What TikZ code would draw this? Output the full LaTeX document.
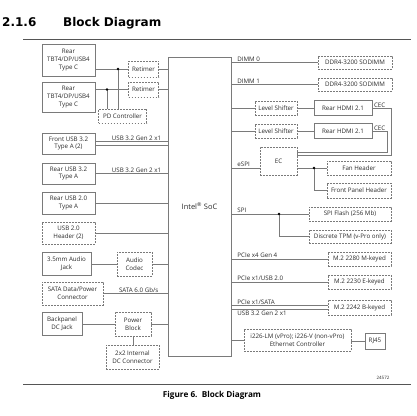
\documentclass[tikz,border=0pt]{standalone}
\usepackage{fontspec}
\setmainfont{Open Sans}
\newfontfamily\vfont{DejaVu Sans}
\definecolor{ln}{HTML}{7A7A7A}
\definecolor{tx}{HTML}{2A2A2A}
\definecolor{rl}{HTML}{555555}
\tikzset{
  box/.style={draw=ln, line width=0.6pt, rectangle, inner sep=0pt, align=center,
    font=\fontsize{6.2}{7.8}\selectfont, text=tx},
  dbox/.style={box, dash pattern=on 1.8pt off 1.2pt},
  sz/.style 2 args={minimum width=#1pt, minimum height=#2pt},
  wire/.style={draw=ln, line width=0.6pt},
  lbl/.style={font=\fontsize{6.2}{7}\selectfont, text=tx, inner sep=0.8pt},
  rlbl/.style={lbl, anchor=south west, pos=0, xshift=5pt},
  rlblb/.style={lbl, anchor=north west, pos=0, xshift=5pt},
  jdot/.style={circle, fill=black, inner sep=0pt, minimum size=2.6pt},
  titlef/.style={font=\vfont\bfseries\fontsize{12}{14}\selectfont, text=black, inner sep=0pt},
  capf/.style={font=\bfseries\fontsize{8.2}{9}\selectfont, text=black, inner sep=0pt},
  rulestyle/.style={draw=rl, line width=0.9pt}
}
\begin{document}
\begin{tikzpicture}[x=1pt,y=-1pt]
\useasboundingbox (0,0) rectangle (416,416);
% title and rules
\node[titlef, anchor=base west] (num) at (2,26) {2.1.6};
\node[titlef, anchor=base west] (ttl) at (63,26) {Block Diagram};
\draw[rulestyle] (23,39) -- (411,39);
\draw[rulestyle] (23,384) -- (411,384);
\node[capf] (cap) at (212,395) {Figure 6.\ \ Block Diagram};
\node[lbl, font=\fontsize{4.5}{5}\selectfont] (fignum) at (383,378) {24572};

% SoC
\node[box, sz={63}{299}, font=\fontsize{7.5}{9}\selectfont] (soc) at (199.5,206.5) {Intel\textsuperscript{\textregistered} SoC};

% left side
\node[box, sz={53}{32}] (tbt1) at (68.5,60) {Rear\\TBT4/DP/USB4\\Type C};
\node[box, sz={53}{30}] (tbt2) at (68.5,97) {Rear\\TBT4/DP/USB4\\Type C};
\node[dbox, sz={30}{16}] (ret1) at (143.5,69) {Retimer};
\node[dbox, sz={30}{15}] (ret2) at (143.5,89.5) {Retimer};
\node[dbox, sz={48}{14}] (pd) at (122.5,116) {PD Controller};
\node[box, sz={53}{21}] (fusb) at (68.5,143.5) {Front USB 3.2\\Type A (2)};
\node[box, sz={53}{21}] (rusb3) at (68.5,173.5) {Rear USB 3.2\\Type A};
\node[box, sz={53}{22}] (rusb2) at (68.5,203) {Rear USB 2.0\\Type A};
\node[dbox, sz={53}{22}] (hdr) at (68.5,233) {USB 2.0\\Header (2)};
\node[box, sz={49}{23}] (jack) at (66.5,263.5) {3.5mm Audio\\Jack};
\node[dbox, sz={35}{24}] (codec) at (134.5,264) {Audio\\Codec};
\node[dbox, sz={61}{23}] (sata) at (72.5,293.5) {SATA Data/Power\\Connector};
\node[box, sz={40}{23}] (dcj) at (62,323.5) {Backpanel\\DC Jack};
\node[dbox, sz={36}{24}] (pb) at (133,324) {Power\\Block};
\node[dbox, sz={53}{24}] (dc2) at (132.5,357) {2x2 Internal\\DC Connector};

% right side
\node[dbox, sz={74}{13}] (ddr0) at (355,62.5) {DDR4-3200 SODIMM};
\node[dbox, sz={74}{13}] (ddr1) at (355,84.5) {DDR4-3200 SODIMM};
\node[dbox, sz={42}{14}] (ls1) at (276,108) {Level Shifter};
\node[box, sz={58}{15}] (hdmi1) at (343,108) {Rear HDMI 2.1};
\node[dbox, sz={42}{14}] (ls2) at (276,131) {Level Shifter};
\node[box, sz={58}{15}] (hdmi2) at (343,131) {Rear HDMI 2.1};
\node[dbox, sz={37}{28}] (ec) at (278.5,161) {EC};
\node[dbox, sz={64}{14}] (fan) at (359,168) {Fan Header};
\node[dbox, sz={64}{15}] (fph) at (359,190.5) {Front Panel Header};
\node[dbox, sz={82}{14}] (spif) at (350,214) {SPI Flash (256 Mb)};
\node[dbox, sz={82}{13}] (tpm) at (350,236.5) {Discrete TPM (v-Pro only)};
\node[dbox, sz={63}{14}] (m2m) at (359.5,259) {M.2 2280 M-keyed};
\node[dbox, sz={63}{14}] (m2e) at (359.5,282) {M.2 2230 E-keyed};
\node[dbox, sz={63}{15}] (m2b) at (359.5,307.5) {M.2 2242 B-keyed};
\node[dbox, sz={107}{22}] (eth) at (297.5,340) {i226-LM (vPro); i226-V (non-vPro)\\Ethernet Controller};
\node[box, sz={20}{16}] (rj) at (375,341) {RJ45};

% junction coordinates
\coordinate (t1) at (118,69);
\coordinate (t2) at (107,89.5);
\coordinate (fd) at (314,168);
\coordinate (sd) at (279,214);

% left wires
\draw[wire] (tbt1.east |- ret1) -- (ret1.west);
\draw[wire] (tbt2.east |- ret2) -- (ret2.west);
\draw[wire] (t1) -- (t1 |- pd.north);
\draw[wire] (t2) -- (t2 |- pd.north);
\node[jdot] (j1) at (t1) {};
\node[jdot] (j2) at (t2) {};
\draw[wire] (ret1.east) -- (ret1.east -| soc.west);
\draw[wire] (ret2.east) -- (ret2.east -| soc.west);
\draw[wire] ([yshift=2pt]fusb.east) -- node[lbl, above, pos=0.57] {USB 3.2 Gen 2 x1} ([yshift=2pt]fusb.east -| soc.west);
\draw[wire] ([yshift=-2pt]fusb.east) -- ([yshift=-2pt]fusb.east -| soc.west);
\draw[wire] (rusb3.east) -- node[lbl, above, pos=0.57] {USB 3.2 Gen 2 x1} (rusb3.east -| soc.west);
\draw[wire] (rusb2.east) -- (rusb2.east -| soc.west);
\draw[wire] (hdr.east) -- (hdr.east -| soc.west);
\draw[wire] (jack.east |- codec) -- (codec.west);
\draw[wire] (codec.east) -- (codec.east -| soc.west);
\draw[wire] (sata.east) -- node[lbl, above, pos=0.55] {SATA 6.0 Gb/s} (sata.east -| soc.west);
\draw[wire] (dcj.east |- pb) -- (pb.west);
\draw[wire] (pb.east) -- (pb.east -| soc.west);
\draw[wire] (pb.south) -- (pb.south |- dc2.north);

% right wires
\draw[wire] (soc.east |- ddr0) -- node[rlbl] {DIMM 0} (ddr0.west);
\draw[wire] (soc.east |- ddr1) -- node[rlbl] {DIMM 1} (ddr1.west);
\draw[wire] (soc.east |- ls1) -- (ls1.west);
\draw[wire] (ls1.east) -- (hdmi1.west);
\draw[wire] (soc.east |- ls2) -- (ls2.west);
\draw[wire] (ls2.east) -- (hdmi2.west);
\draw[wire] (hdmi1.east) -- ++(19,0) |- ([yshift=6pt]ec.east);
\draw[wire] (hdmi2.east) -- ++(15,0) |- ([yshift=9pt]ec.east);
\node[lbl, anchor=south west, inner sep=0.5pt] (cec1) at ([xshift=1pt]hdmi1.east) {CEC};
\node[lbl, anchor=south west, inner sep=0.5pt] (cec2) at ([xshift=1pt]hdmi2.east) {CEC};
\draw[wire] (soc.east |- fd) -- node[rlbl] {eSPI} (ec.west |- fd);
\draw[wire] (ec.east |- fd) -- (fan.west |- fd);
\draw[wire] (fd) |- (fph.west);
\node[jdot] (j3) at (fd) {};
\draw[wire] (soc.east |- sd) -- node[rlbl] {SPI} (spif.west |- sd);
\draw[wire] (sd) |- (tpm.west);
\node[jdot] (j4) at (sd) {};
\draw[wire] (soc.east |- m2m) -- node[rlbl] {PCIe x4 Gen 4} (m2m.west);
\draw[wire] (soc.east |- m2e) -- node[rlbl] {PCIe x1/USB 2.0} (m2e.west);
\draw[wire] ([yshift=2pt]soc.east |- m2b) -- node[rlbl] {PCIe x1/SATA} ([yshift=2pt]m2b.west);
\draw[wire] ([yshift=-2pt]soc.east |- m2b) -- node[rlblb] {USB 3.2 Gen 2 x1} ([yshift=-2pt]m2b.west);
\draw[wire] (soc.east |- eth) -- (eth.west);
\draw[wire] (eth.east |- rj) -- (rj.west);
\end{tikzpicture}
\end{document}
